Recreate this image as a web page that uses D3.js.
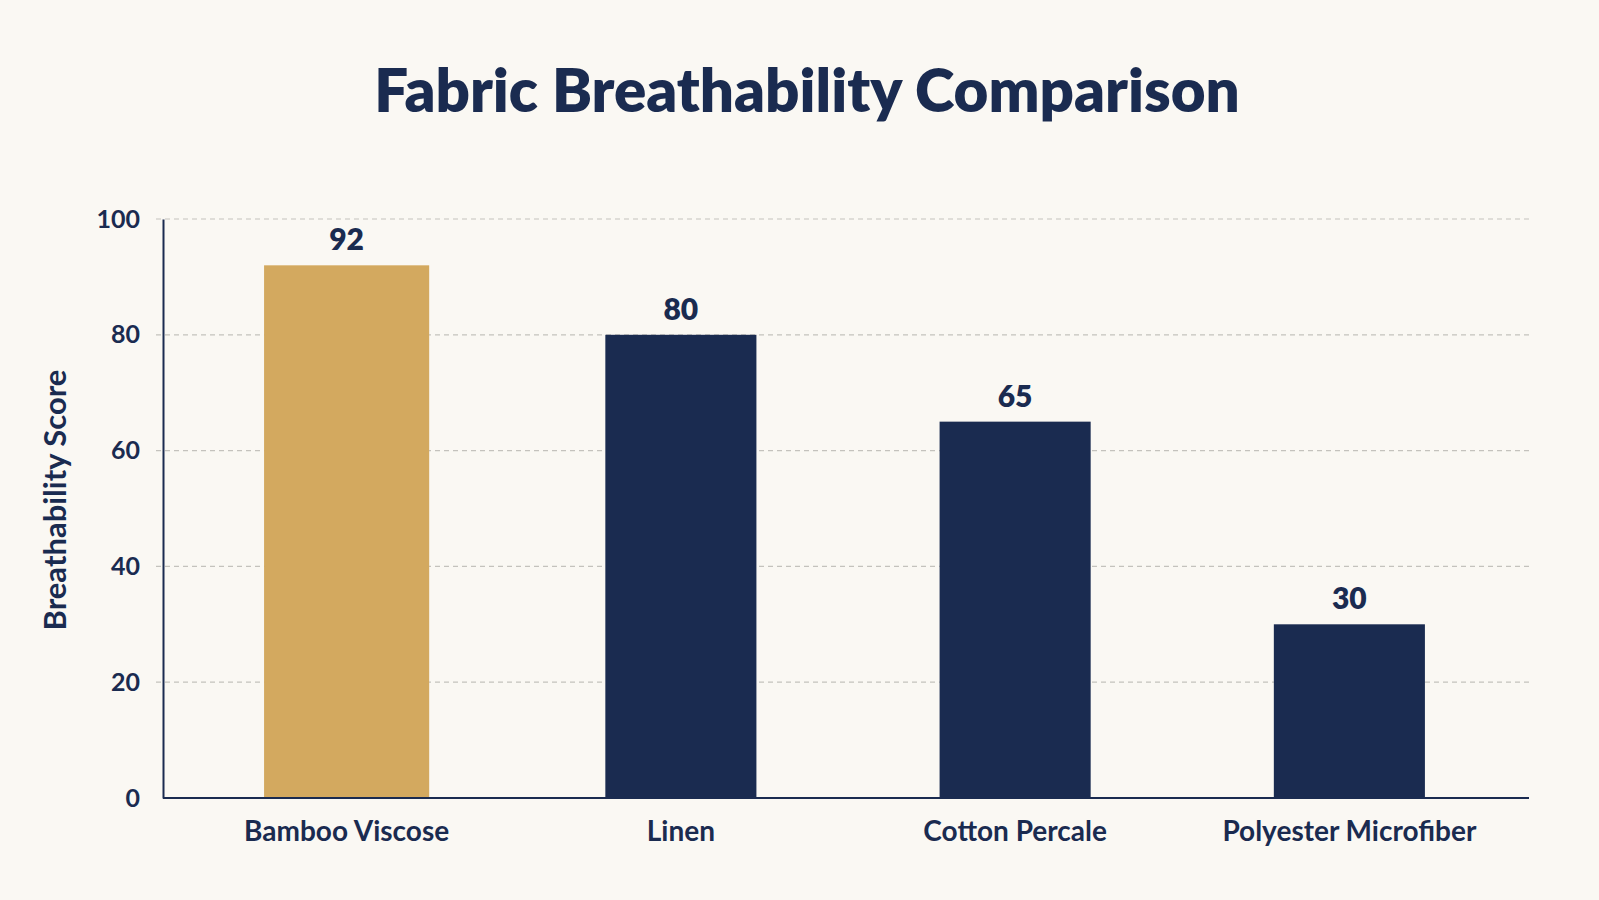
<!DOCTYPE html>
<html><head><meta charset="utf-8">
<script src="https://cdn.jsdelivr.net/npm/d3@7"></script>
<style>
html,body{margin:0;padding:0;background:#faf8f3;}
svg{display:block;}
</style></head>
<body>
<svg id="chart" width="1599" height="900"></svg>
<script>
const categories = ["Bamboo Viscose", "Linen", "Cotton Percale", "Polyester Microfiber"];
const scores = [92, 80, 65, 30];
const highlighted = ["Bamboo Viscose"];
const yTicks = [0, 20, 40, 60, 80, 100];

const W = 1599, H = 900;
const navy = "#1a2b50", gold = "#d3a95f";
const font = "Lato, 'Open Sans', sans-serif";
const svg = d3.select("#chart");
svg.append("rect").attr("width", W).attr("height", H).attr("fill", "#faf8f3");

const plot = {left: 163, right: 1529, top: 219, bottom: 798};
const y = d3.scaleLinear().domain([0, 100]).range([plot.bottom, plot.top]);
const x = d3.scaleBand().domain(categories).range([179.5, 1516.5]).padding(0);

// title
svg.append("text").attr("x", 807).attr("y", 112).attr("text-anchor", "middle")
  .attr("font-family", font).attr("font-weight", 800).attr("font-size", 60)
  .attr("fill", navy).text("Fabric Breathability Comparison");

// gridlines
svg.append("g").selectAll("line").data(yTicks.filter(d => d > 0)).join("line")
  .attr("x1", plot.left - 7).attr("x2", plot.right)
  .attr("y1", d => y(d)).attr("y2", d => y(d))
  .attr("stroke", "#c4c2bd").attr("stroke-width", 1.2).attr("stroke-dasharray", "5,4");

// y axis
const yAxis = svg.append("g").attr("transform", `translate(${plot.left},0)`)
  .call(d3.axisLeft(y).tickValues(yTicks).tickSize(0).tickPadding(23));
yAxis.select(".domain").attr("stroke", navy).attr("stroke-width", 2);
yAxis.selectAll("text").attr("font-family", font).attr("font-weight", 700)
  .attr("font-size", 25).attr("fill", navy);

// bars
const barW = d => x.bandwidth() * (highlighted.includes(d) ? 0.494 : 0.452);
svg.append("g").selectAll("rect").data(categories).join("rect")
  .attr("x", d => x(d) + (x.bandwidth() - barW(d)) / 2)
  .attr("width", barW)
  .attr("y", (d, i) => y(scores[i]))
  .attr("height", (d, i) => y(0) - y(scores[i]))
  .attr("fill", d => highlighted.includes(d) ? gold : navy);

// value labels
svg.append("g").selectAll("text").data(categories).join("text")
  .attr("x", d => x(d) + x.bandwidth() / 2)
  .attr("y", (d, i) => y(scores[i]) - 15)
  .attr("text-anchor", "middle").attr("font-family", font).attr("font-weight", 800)
  .attr("font-size", 30).attr("fill", navy).text((d, i) => scores[i]);

// x axis
const xAxis = svg.append("g").attr("transform", `translate(0,${plot.bottom})`)
  .call(d3.axisBottom(x).tickSize(0).tickPadding(23));
xAxis.select(".domain").attr("d", `M${plot.left},0H${plot.right}`).attr("stroke", navy).attr("stroke-width", 2);
xAxis.selectAll("text").attr("font-family", font).attr("font-weight", 700)
  .attr("font-size", 28).attr("fill", navy);

// y axis title
svg.append("text").attr("transform", `translate(66,500) rotate(-90)`)
  .attr("text-anchor", "middle").attr("font-family", font).attr("font-weight", 700)
  .attr("font-size", 31).attr("fill", navy).text("Breathability Score");
</script>
</body></html>
